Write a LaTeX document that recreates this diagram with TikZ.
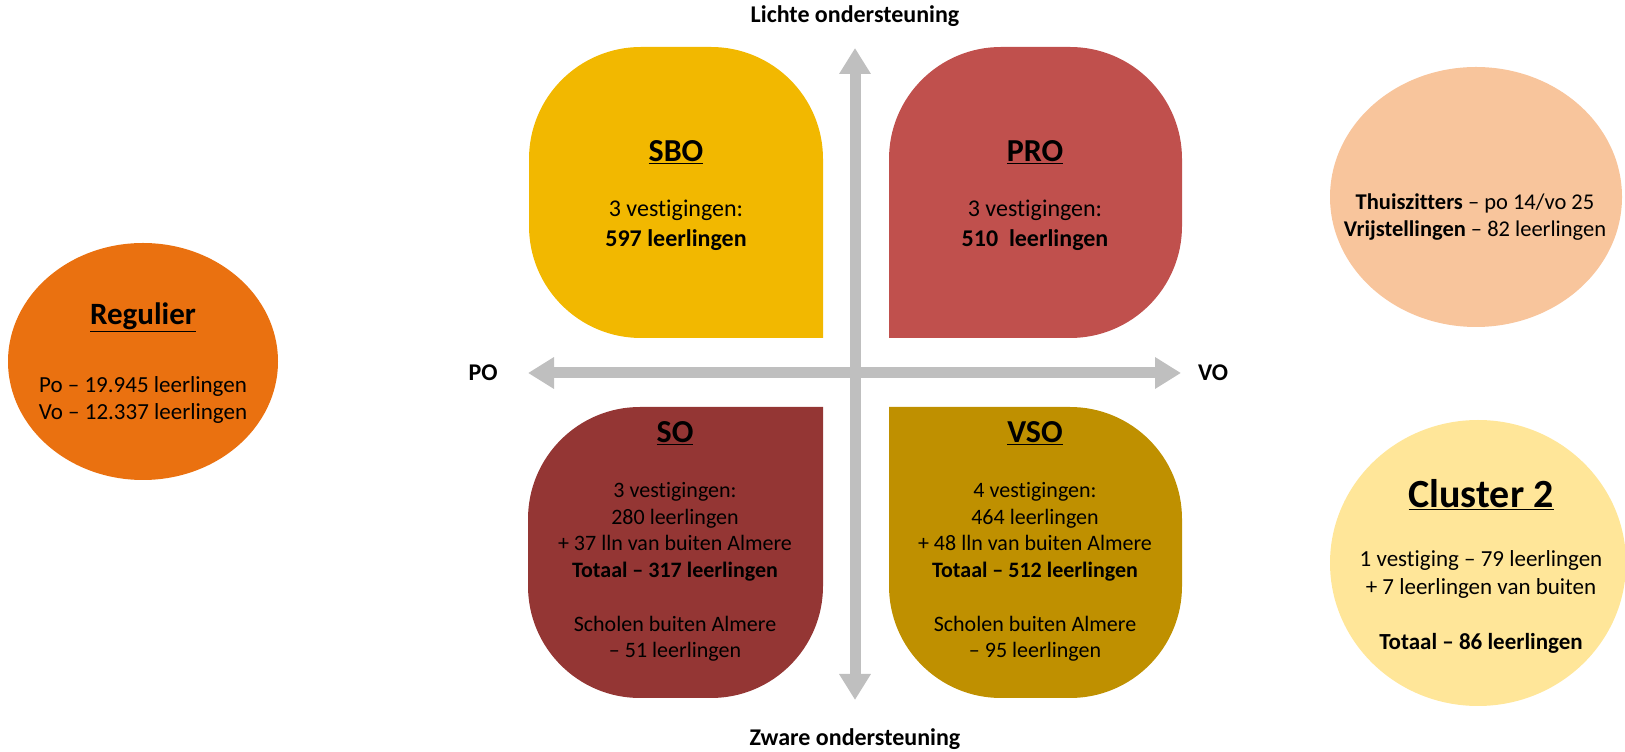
\documentclass[tikz,border=0pt]{standalone}
\usepackage{fontspec}
\setmainfont{Carlito}[Ligatures=NoCommon]
\usetikzlibrary{arrows.meta}
\definecolor{sbocol}{HTML}{F2B800}
\definecolor{procol}{HTML}{C0504D}
\definecolor{socol}{HTML}{943634}
\definecolor{vsocol}{HTML}{BF9000}
\definecolor{regcol}{HTML}{EA7110}
\definecolor{thuiscol}{HTML}{F8C59C}
\definecolor{clustcol}{HTML}{FFE699}
\definecolor{axisgray}{HTML}{BFBFBF}
\tikzset{
  axisarrow/.style={draw=axisgray, line width=11pt,
    {Triangle[width=30pt,length=26pt]}-{Triangle[width=30pt,length=26pt]}},
  axislbl/.style={font=\fontsize{24}{29}\selectfont\bfseries, inner sep=0pt},
  ttl/.style={font=\fontsize{32}{38}\selectfont\bfseries, inner sep=0pt},
  bigttl/.style={font=\fontsize{40}{48}\selectfont\bfseries, inner sep=0pt},
  bodyA/.style={align=center, inner sep=0pt, font=\fontsize{24}{30}\selectfont},
  bodyB/.style={align=center, inner sep=0pt, font=\fontsize{22}{26.7}\selectfont},
  bodyC/.style={align=center, inner sep=0pt, font=\fontsize{23}{27.7}\selectfont},
}
\begin{document}
\begin{tikzpicture}[x=1pt,y=1pt]
\useasboundingbox (0,0) rectangle (1625,752);
\def\R{112}
% SBO (square bottom-right)
\fill[sbocol] (823,414) -- (529+\R,414) arc[start angle=270,end angle=180,radius=\R]
  -- (529,705-\R) arc[start angle=180,end angle=90,radius=\R]
  -- (823-\R,705) arc[start angle=90,end angle=0,radius=\R] -- cycle;
% PRO (square bottom-left)
\fill[procol] (889,414) -- (889,705-\R) arc[start angle=180,end angle=90,radius=\R]
  -- (1182-\R,705) arc[start angle=90,end angle=0,radius=\R]
  -- (1182,414+\R) arc[start angle=0,end angle=-90,radius=\R] -- cycle;
% SO (square top-right)
\fill[socol] (823,345) -- (528+\R,345) arc[start angle=90,end angle=180,radius=\R]
  -- (528,54+\R) arc[start angle=180,end angle=270,radius=\R]
  -- (823-\R,54) arc[start angle=270,end angle=360,radius=\R] -- cycle;
% VSO (square top-left)
\fill[vsocol] (889,345) -- (889,54+\R) arc[start angle=180,end angle=270,radius=\R]
  -- (1182-\R,54) arc[start angle=270,end angle=360,radius=\R]
  -- (1182,345-\R) arc[start angle=0,end angle=90,radius=\R] -- cycle;
% circles
\fill[regcol] (143,390.5) ellipse[x radius=135, y radius=118.5];
\fill[thuiscol] (1476,555) ellipse[x radius=146, y radius=130];
\fill[clustcol] (1478,189) ellipse[x radius=148, y radius=143];
% axes
\coordinate (vtop) at (855,704);
\coordinate (vbot) at (855,52);
\coordinate (hleft) at (528,379);
\coordinate (hright) at (1181,379);
\draw[axisarrow] (vbot) -- (vtop);
\draw[axisarrow] (hleft) -- (hright);
% axis labels
\node[axislbl, anchor=base] (lichte) at (855,729) {Lichte ondersteuning};
\node[axislbl, anchor=base] (zware) at (855,6) {Zware ondersteuning};
\node[axislbl, anchor=base] (po) at (483,371) {PO};
\node[axislbl, anchor=base] (vo) at (1213,371) {VO};
% SBO
\node[ttl] (sbot) at (676,600) {\underline{SBO}};
\node[bodyA] (sbob) at (676,527) {3 vestigingen:\\ {\bfseries 597 leerlingen}};
% PRO
\node[ttl] (prot) at (1035,600) {\underline{PRO}};
\node[bodyA] (prob) at (1035,527) {3 vestigingen:\\ {\bfseries 510\ \ leerlingen}};
% SO
\node[ttl] (sot) at (675,319) {\underline{SO}};
\node[bodyB] (sob) at (675,180) {3 vestigingen:\\ 280 leerlingen\\ + 37 lln van buiten Almere\\ {\bfseries Totaal – 317 leerlingen}\\[26.7pt] Scholen buiten Almere\\ – 51 leerlingen};
% VSO
\node[ttl] (vsot) at (1035,319) {\underline{VSO}};
\node[bodyB] (vsob) at (1035,180) {4 vestigingen:\\ 464 leerlingen\\ + 48 lln van buiten Almere\\ {\bfseries Totaal – 512 leerlingen}\\[26.7pt] Scholen buiten Almere\\ – 95 leerlingen};
% Regulier
\node[ttl, font=\fontsize{31}{37}\selectfont\bfseries] (regt) at (143,435) {\underline{Regulier}};
\node[bodyC] (regb) at (143,352) {Po – 19.945 leerlingen\\ Vo – 12.337 leerlingen};
% Thuiszitters
\node[bodyC, font=\fontsize{22.5}{27}\selectfont] (thuis) at (1475,535) {{\bfseries Thuiszitters} – po 14/vo 25\\ {\bfseries Vrijstellingen} – 82 leerlingen};
% Cluster 2
\node[bigttl] (clt) at (1481,257) {\underline{Cluster 2}};
\node[bodyC] (clb) at (1481,150) {1 vestiging – 79 leerlingen\\ + 7 leerlingen van buiten\\[27.7pt] {\bfseries Totaal – 86 leerlingen}};
\end{tikzpicture}
\end{document}
